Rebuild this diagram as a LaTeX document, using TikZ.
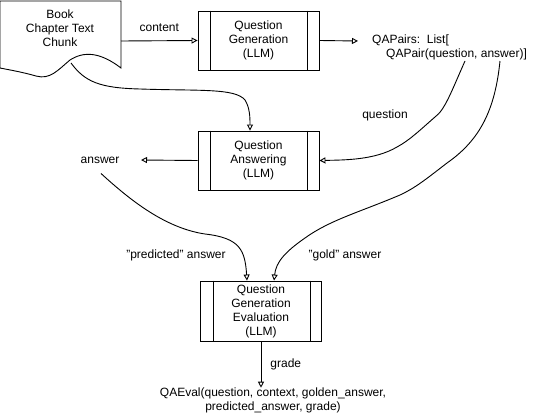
\documentclass[tikz,border=0pt]{standalone}
\usepackage{fontspec}
\setmainfont{Liberation Sans}
\usetikzlibrary{arrows.meta,calc}
\begin{document}
\begin{tikzpicture}[x=1pt,y=-1pt,
  every node/.style={font=\fontsize{12}{14}\selectfont, inner sep=0pt},
  proc/.style={draw, line width=0.9pt, minimum width=121pt, minimum height=59pt, align=center},
  lbl/.style={align=left},
  conn/.style={line width=0.9pt, -{Triangle[open, length=6pt, width=6pt, fill=white]}}]
\useasboundingbox (0,0) rectangle (541,415);
% document shape
\draw[line width=0.9pt] (0,1) -- (121,1) -- (121,68)
  .. controls (100,52) and (84,51) .. (70,60)
  .. controls (58,70) and (50,80) .. (36,76)
  .. controls (22,72) and (10,70) .. (0,68) -- cycle;
\node[align=center] (doc) at (60,28) {Book\\Chapter Text\\Chunk};
\coordinate (docout) at (121,41);
\coordinate (docbot) at (71,63);
% processes
\node[proc] (qg) at (258.5,40.5) {Question\\Generation\\(LLM)};
\node[proc] (qa) at (258.5,160.5) {Question\\Answering\\(LLM)};
\node[proc, minimum height=60pt] (ev) at (261,311) {Question\\Generation\\Evaluation\\(LLM)};
\foreach \n in {qg,qa,ev}{
  \draw[line width=0.9pt] ($(\n.north west)+(13,0)$) -- ($(\n.south west)+(13,0)$);
  \draw[line width=0.9pt] ($(\n.north east)+(-12,0)$) -- ($(\n.south east)+(-12,0)$);
}
% texts
\node[lbl, anchor=west] (qap) at (372,47.5) {QAPairs:\ \ List[\\\hspace{14pt}QAPair(question, answer)]};
\coordinate (qapq) at (465,61);
\coordinate (qapa) at (500,61);
\node (ans) at (100,160) {answer};
\coordinate (ansin) at (141,160);
\node[align=center] (res) at (273,400.5) {QAEval(question, context, golden\_answer,\\predicted\_answer, grade)};
% connectors
\draw[conn] (docout) -- node[above=9pt] {content} (qg.west);
\draw[conn] (qg.east) -- (358,41);
\draw[conn] (docbot) .. controls (85,82) and (100,88) .. (140,89)
  .. controls (200,91) and (235,88) .. (245,100)
  .. controls (250,108) and (250,118) .. ($(qa.north)+(-8.5,0)$);
\draw[conn] (qa.west) -- (ansin);
\draw[conn] (qapq) .. controls (452,90) and (445,110) .. (435,117)
  .. controls (420,130) and (410,140) .. (397,147)
  .. controls (375,160) and (345,160) .. (qa.east);
\node (qlbl) at (385,115) {question};
\draw[conn] (qapa) .. controls (495,110) and (480,140) .. (447,163)
  .. controls (425,180) and (415,188) .. (400,195)
  .. controls (360,212) and (330,220) .. (305,238)
  .. controls (285,252) and (276,262) .. ($(ev.north)+(13,0)$);
\node (glbl) at (345,255) {"gold" answer};
\draw[conn] ($(ans.south)+(1,10)$) .. controls (130,200) and (165,228) .. (205,234)
  .. controls (240,238) and (245,250) .. ($(ev.north)+(-14,0)$);
\node (plbl) at (176,255) {"predicted" answer};
\draw[conn] (ev.south) -- node[right=9pt] {grade} (ev.south |- res.north);
\end{tikzpicture}
\end{document}
